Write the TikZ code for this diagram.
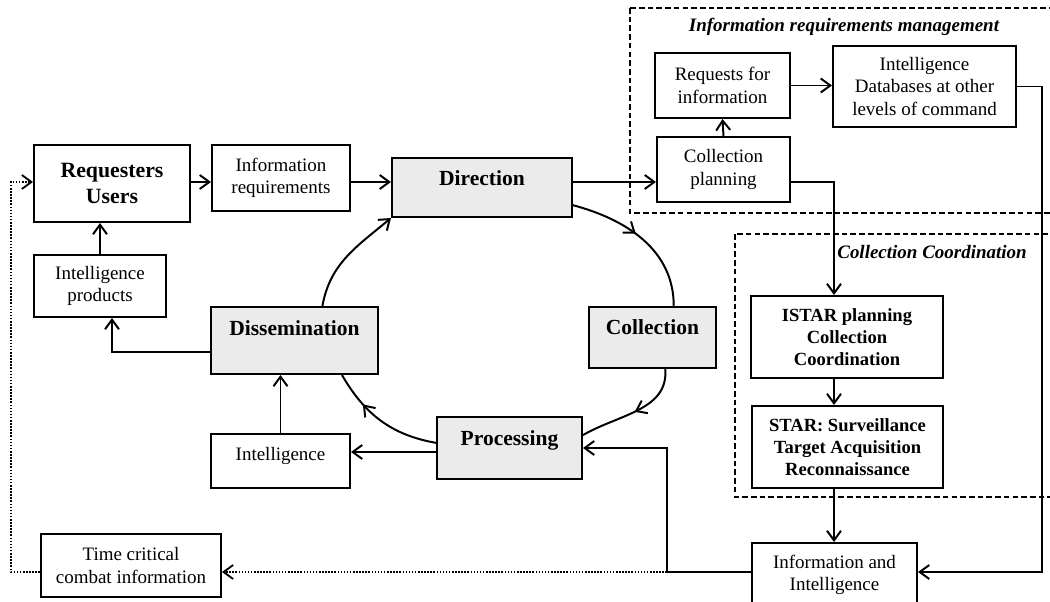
\documentclass[tikz,border=0pt]{standalone}
\usepackage{fontspec}
\setmainfont{Liberation Serif}
\usetikzlibrary{arrows.meta,decorations.markings}

\begin{document}
\begin{tikzpicture}[x=0.025cm, y=0.025cm,
    >={Straight Barb[length=2.4mm,width=3.5mm]},
    box/.style={draw, line width=1.4pt, inner sep=0pt, align=center,
      font=\fontsize{13.5}{16}\selectfont},
    stage/.style={box, fill=black!8, font=\fontsize{15.3}{19}\selectfont\bfseries},
    boldbox/.style={box, font=\fontsize{13.2}{15.6}\selectfont\bfseries},
    wh/.style 2 args={minimum width=#1cm, minimum height=#2cm},
    lift/.style={text height=10pt, text depth=#1},
    arr/.style={->, line width=1.4pt},
    dotarr/.style={->, line width=1.3pt, dash pattern=on 1.1pt off 1.1pt},
    cyc/.style={line width=1.4pt},
    midarrow/.style={postaction={decorate},
      decoration={markings, mark=at position #1 with {\arrow{>}}}},
    frame/.style={line width=1.4pt, dash pattern=on 4pt off 2.2pt},
    title/.style={font=\fontsize{13.5}{16}\selectfont\bfseries\itshape}]
  \useasboundingbox (0,0) rectangle (1050,-602);
  % dashed areas
  \draw[frame] (630,-8) rectangle (1060,-213);
  \draw[frame] (735,-234) rectangle (1060,-497);
  \node[title] (irmtitle) at (844,-27) {Information requirements management};
  \node[title] (cctitle) at (932,-252) {Collection Coordination};
  % boxes
  \node[box, wh={3.9}{1.925}, font=\fontsize{15.5}{19}\selectfont\bfseries] (req) at (112,-183.5) {Requesters\\Users};
  \node[box, wh={3.45}{1.65}] (inforeq) at (281,-178) {Information\\requirements};
  \node[stage, wh={4.5}{1.475}, lift=13pt] (dir) at (482,-187.5) {Direction};
  \node[box, wh={3.3}{1.55}] (intprod) at (100,-286) {Intelligence\\products};
  \node[stage, wh={4.175}{1.675}, lift=17pt] (diss) at (294.5,-340.5) {Dissemination};
  \node[stage, wh={3.175}{1.525}, lift=14pt] (coll) at (652.5,-337.5) {Collection};
  \node[stage, wh={3.625}{1.55}, lift=14pt] (proc) at (509.5,-448) {Processing};
  \node[box, wh={3.475}{1.35}, lift=11pt] (intel) at (280.5,-461) {Intelligence};
  \node[box, wh={4.5}{1.575}] (timecrit) at (131,-565.5) {Time critical\\combat information};
  \node[box, wh={4.125}{1.6}] (infoint) at (834.5,-575) {Information and\\Intelligence};
  \node[box, wh={3.375}{1.625}] (reqinfo) at (722.5,-85.5) {Requests for\\information};
  \node[box, wh={4.575}{2.025}] (idb) at (924.5,-86.5) {Intelligence\\Databases at other\\levels of command};
  \node[box, wh={3.325}{1.625}] (colplan) at (723.5,-169.5) {Collection\\planning};
  \node[boldbox, wh={4.8}{2.05}] (istar) at (847,-337) {ISTAR planning\\Collection\\Coordination};
  \node[boldbox, wh={4.775}{2.05}] (star) at (847.5,-447) {STAR: Surveillance\\Target Acquisition\\Reconnaissance};
  % routing points
  \coordinate (mainrow) at (0,-182);
  \coordinate (procrow) at (0,-452);
  \coordinate (col) at (834,0);
  \coordinate (rt) at (1042,-572);
  \coordinate (knee) at (667,-572);
  \coordinate (lft) at (11,-182);
  \coordinate (dk) at (112,-352);
  \begin{scope}
    \draw[arr] (req.east |- mainrow) -- (inforeq.west |- mainrow);
    \draw[arr] (inforeq.east |- mainrow) -- (dir.west |- mainrow);
    \draw[arr] (dir.east |- mainrow) -- (colplan.west |- mainrow);
    \draw[arr] (colplan.north) -- (reqinfo.south);
    \draw[arr] (reqinfo.east) -- (reqinfo.east -| idb.west);
    \draw[arr] (colplan.east |- mainrow) -| (istar.north -| col);
    \draw[arr] (istar.south -| col) -- (star.north -| col);
    \draw[arr] (star.south -| col) -- (infoint.north -| col);
    \draw[arr] (idb.east) -| (rt) -- (infoint.east |- rt);
    \draw[arr] (infoint.west |- knee) -- (knee) |- (proc.east);
    \draw[dotarr] (knee) -- (timecrit.east |- knee);
    \draw[dotarr] (timecrit.west |- knee) -| (lft) -- (req.west |- lft);
    \draw[arr] (proc.west |- procrow) -- (intel.east |- procrow);
    \draw[arr] (intel.north) -- (intel.north |- diss.south);
    \draw[arr] (diss.west |- dk) -| (intprod.south -| dk);
    \draw[arr] (intprod.north) -- (intprod.north |- req.south);
  \end{scope}
  % cycle
  \begin{scope}
    \draw[cyc, midarrow=0.45] (dir.-11) to[out=-15, in=90] (coll.56);
    \draw[cyc, midarrow=0.5] (coll.-68) to[out=-85, in=30] (proc.10);
    \draw[cyc, midarrow=0.7] (proc.176) to[out=170, in=-60] (diss.-36);
    \draw[cyc, ->] (diss.51) to[out=80, in=-140] (dir.south west);
  \end{scope}
\end{tikzpicture}
\end{document}
